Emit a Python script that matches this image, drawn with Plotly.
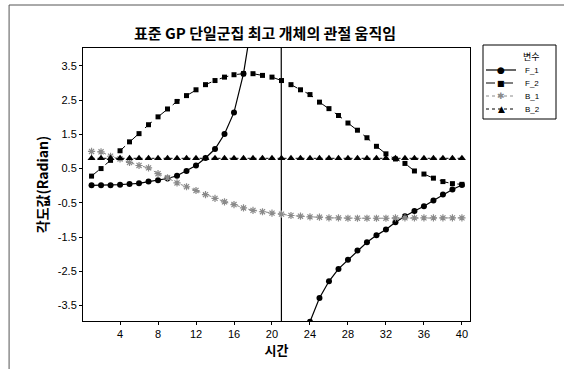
import plotly.graph_objects as go

t = list(range(1, 41))
F_1 = [0.01, 0.01, 0.01, 0.03, 0.05, 0.07, 0.12, 0.16, 0.21, 0.29,
       0.43, 0.59, 0.81, 1.07, 1.51, 2.14, 3.27, 5.0, 15.0, 400.0,
       -6.5, -5.2, -4.5, -3.97, -3.28, -2.79, -2.43, -2.16, -1.89, -1.65,
       -1.45, -1.28, -1.07, -0.89, -0.74, -0.60, -0.43, -0.26, -0.11, 0.02]
F_2 = [0.28, 0.50, 0.74, 1.02, 1.28, 1.52, 1.78, 2.01, 2.24, 2.46,
       2.63, 2.80, 2.95, 3.07, 3.17, 3.24, 3.27, 3.27, 3.22, 3.17,
       3.07, 2.95, 2.80, 2.66, 2.44, 2.25, 2.05, 1.83, 1.62, 1.40,
       1.15, 0.93, 0.78, 0.65, 0.43, 0.34, 0.22, 0.12, 0.06, 0.04]
B_1 = [1.00, 0.99, 0.86, 0.78, 0.68, 0.59, 0.52, 0.35, 0.23, 0.08,
       -0.03, -0.14, -0.26, -0.37, -0.47, -0.55, -0.65, -0.72, -0.76, -0.80,
       -0.83, -0.87, -0.89, -0.91, -0.92, -0.94, -0.94, -0.95, -0.95, -0.95,
       -0.95, -0.95, -0.94, -0.94, -0.94, -0.94, -0.94, -0.94, -0.94, -0.94]
B_2 = [0.80, 0.80, 0.80, 0.80, 0.80, 0.80, 0.80, 0.80, 0.80, 0.80,
       0.80, 0.80, 0.80, 0.80, 0.80, 0.80, 0.80, 0.80, 0.80, 0.80,
       0.80, 0.80, 0.80, 0.80, 0.80, 0.80, 0.80, 0.80, 0.80, 0.80,
       0.80, 0.80, 0.80, 0.80, 0.80, 0.80, 0.80, 0.80, 0.80, 0.80]

series_names = ["F_1", "F_2", "B_1", "B_2"]
x_ticks = [4, 8, 12, 16, 20, 24, 28, 32, 36, 40]
y_ticks = [-3.5, -2.5, -1.5, -0.5, 0.5, 1.5, 2.5, 3.5]

FONT = "Arial, Liberation Sans, Noto Sans CJK KR, sans-serif"
KFONT = "Noto Sans CJK KR, sans-serif"

W, H = 564, 369
ML, MR, MT, MB = 83, 94, 48, 48
PW, PH = W - ML - MR, H - MT - MB


def px(x):
    return (x - ML) / PW


def py(y):
    return 1 - (y - MT) / PH


styles = [
    dict(line=dict(color="black", width=1.2),
         marker=dict(symbol="circle", size=6, color="black")),
    dict(line=dict(color="black", width=1, dash="dash"),
         marker=dict(symbol="square", size=5, color="black")),
    dict(line=dict(color="#8a8a8a", width=1, dash="dot"),
         marker=dict(symbol="asterisk-open", size=6,
                     line=dict(color="#8a8a8a", width=1.2))),
    dict(line=dict(color="black", width=1, dash="dot"),
         marker=dict(symbol="triangle-up", size=7, color="black")),
]

fig = go.Figure()
for name, ys, st in zip(series_names, [F_1, F_2, B_1, B_2], styles):
    fig.add_trace(go.Scatter(x=t, y=ys, name=name, mode="lines+markers",
                             showlegend=False, **st))

axis_common = dict(showgrid=False, zeroline=False, showline=True, linecolor="black",
                   linewidth=1, mirror=True, ticks="outside", ticklen=3,
                   tickcolor="black", tickfont=dict(family=FONT, size=11, color="black"))

fig.update_xaxes(range=[0.1, 40.85], tickvals=x_ticks,
                 ticktext=[str(v) for v in x_ticks],
                 title=dict(text="<b>시간</b>", font=dict(family=KFONT, size=13, color="black"),
                            standoff=2),
                 **axis_common)
fig.update_yaxes(range=[-3.95, 4.02], tickvals=y_ticks,
                 ticktext=[str(v) for v in y_ticks],
                 title=dict(text="<b>각도값(Radian)</b>", font=dict(family=KFONT, size=14, color="black"),
                            standoff=5),
                 **axis_common)

# manual legend
shapes = [
    dict(type="rect", xref="paper", yref="paper", x0=px(483), x1=px(556),
         y0=py(119), y1=py(45), line=dict(color="black", width=1), fillcolor="white"),
    dict(type="line", xref="paper", yref="paper", x0=-0.191, x1=-0.191,
         y0=-0.2, y1=py(5), line=dict(color="#555555", width=1)),
    dict(type="line", xref="paper", yref="paper", x0=-0.191, x1=1.25,
         y0=py(5), y1=py(5), line=dict(color="#555555", width=1)),
]
annotations = [
    dict(text="<b>표준 GP 단일군집 최고 개체의 관절 움직임</b>",
         xref="paper", yref="paper", x=px(265), y=py(33),
         xanchor="center", yanchor="middle", showarrow=False,
         font=dict(family=KFONT, size=15, color="black")),
    dict(text="변수", xref="paper", yref="paper", x=px(531), y=py(56),
         xanchor="center", yanchor="middle", showarrow=False,
         font=dict(family=KFONT, size=9, color="black")),
]
leg_y = [70, 83, 96, 109]
leg_sym = ["●", "■", "✱", "▲"]
leg_sym_size = [9, 8, 9, 9]
leg_sym_color = ["black", "black", "#8a8a8a", "black"]
for name, yy, st, sym, ss, sc in zip(series_names, leg_y, styles, leg_sym, leg_sym_size, leg_sym_color):
    ln = dict(st["line"])
    shapes.append(dict(type="line", xref="paper", yref="paper", x0=px(486), x1=px(516),
                       y0=py(yy), y1=py(yy), line=ln))
    annotations.append(dict(text=sym, xref="paper", yref="paper", x=px(501), y=py(yy),
                            xanchor="center", yanchor="middle", showarrow=False,
                            font=dict(family="DejaVu Sans", size=ss, color=sc)))
    annotations.append(dict(text=name, xref="paper", yref="paper", x=px(523), y=py(yy),
                            xanchor="left", yanchor="middle", showarrow=False,
                            font=dict(family=FONT, size=8, color="black")))

fig.update_layout(
    width=W, height=H,
    margin=dict(l=ML, r=MR, t=MT, b=MB),
    paper_bgcolor="white", plot_bgcolor="white",
    font=dict(family=FONT, color="black"),
    showlegend=False,
    annotations=annotations,
    shapes=shapes,
)

fig.write_html("out.html")
